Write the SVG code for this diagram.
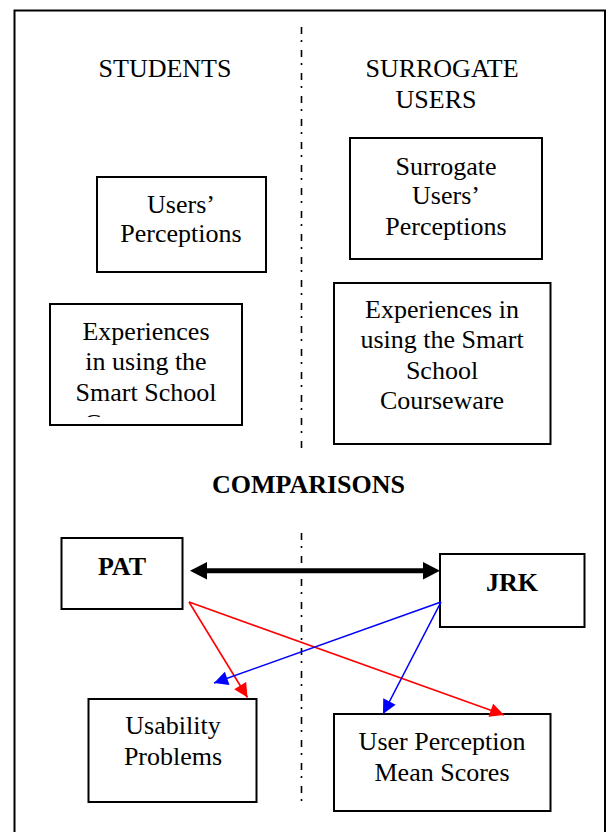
<svg xmlns="http://www.w3.org/2000/svg" width="608" height="832" viewBox="0 0 608 832">
<style>
.box{fill:#fff;stroke:#000;stroke-width:2}
.t{font-family:"Liberation Serif","Times New Roman",serif;font-size:26px;fill:#000;text-anchor:middle}
.b{font-weight:bold}
.div{stroke:#000;stroke-width:1.6;stroke-dasharray:7 6 2 8;fill:none}
.red{stroke:#ff0000;stroke-width:1.6;fill:none}
.blue{stroke:#0000ff;stroke-width:1.6;fill:none}
</style>
<defs>
<marker id="ar" viewBox="0 0 10 10" refX="10" refY="5" markerWidth="15" markerHeight="14" markerUnits="userSpaceOnUse" orient="auto"><path d="M0,0 L10,5 L0,10 Z" fill="#ff0000"/></marker>
<marker id="ab" viewBox="0 0 10 10" refX="10" refY="5" markerWidth="15" markerHeight="14" markerUnits="userSpaceOnUse" orient="auto"><path d="M0,0 L10,5 L0,10 Z" fill="#0000ff"/></marker>
<clipPath id="clipExp"><rect x="50" y="305" width="192" height="112"/></clipPath>
</defs>
<rect x="0" y="0" width="608" height="832" fill="#fff"/>
<rect x="14.5" y="10.5" width="590.5" height="830" fill="none" stroke="#000" stroke-width="2"/>
<g id="dividers">
<line class="div" x1="301.5" y1="27" x2="301.5" y2="452"/>
<line class="div" x1="301.5" y1="533" x2="301.5" y2="804"/>
</g>
<g id="headings">
<text class="t" x="165" y="77">STUDENTS</text>
<text class="t" x="442" y="77">SURROGATE</text>
<text class="t" x="436" y="108">USERS</text>
<text class="t b" x="308.5" y="493">COMPARISONS</text>
</g>
<g id="users-perceptions">
<rect class="box" x="97" y="177" width="169" height="95"/>
<text class="t" x="181" y="213">Users’</text>
<text class="t" x="181" y="242">Perceptions</text>
</g>
<g id="surrogate-perceptions">
<rect class="box" x="350" y="138" width="192" height="121"/>
<text class="t" x="446" y="175">Surrogate</text>
<text class="t" x="446" y="204">Users’</text>
<text class="t" x="446" y="235">Perceptions</text>
</g>
<g id="students-experiences">
<rect class="box" x="50" y="304" width="192" height="121"/>
<g clip-path="url(#clipExp)">
<text class="t" x="146" y="340">Experiences</text>
<text class="t" x="146" y="370">in using the</text>
<text class="t" x="146" y="401">Smart School</text>
<text class="t" x="146" y="432">Courseware</text>
</g>
</g>
<g id="surrogate-experiences">
<rect class="box" x="334" y="283" width="216.5" height="161"/>
<text class="t" x="442" y="318">Experiences in</text>
<text class="t" x="442" y="348">using the Smart</text>
<text class="t" x="442" y="379">School</text>
<text class="t" x="442" y="409">Courseware</text>
</g>
<g id="pat">
<rect class="box" x="61.5" y="538" width="121" height="71"/>
<text class="t b" x="122" y="575">PAT</text>
</g>
<g id="jrk">
<rect class="box" x="440" y="554" width="144.5" height="73"/>
<text class="t b" x="512" y="591">JRK</text>
</g>
<g id="usability">
<rect class="box" x="88.5" y="699" width="168" height="103"/>
<text class="t" x="173" y="734">Usability</text>
<text class="t" x="173" y="765">Problems</text>
</g>
<g id="mean-scores">
<rect class="box" x="334" y="714" width="216.5" height="97"/>
<text class="t" x="442" y="750">User Perception</text>
<text class="t" x="442" y="781">Mean Scores</text>
</g>
<g id="connectors">
<line x1="205" y1="570.7" x2="425" y2="570.7" stroke="#000" stroke-width="5"/>
<path d="M190,570.7 L207,562 L207,579.4 Z" fill="#000"/>
<path d="M440,570.7 L423,562 L423,579.4 Z" fill="#000"/>
<line class="red" x1="189" y1="602" x2="247.5" y2="697.5" marker-end="url(#ar)"/>
<line class="red" x1="189" y1="602" x2="504" y2="715" marker-end="url(#ar)"/>
<line class="blue" x1="441" y1="602" x2="214" y2="683" marker-end="url(#ab)"/>
<line class="blue" x1="441" y1="602" x2="383" y2="714" marker-end="url(#ab)"/>
</g>
</svg>
